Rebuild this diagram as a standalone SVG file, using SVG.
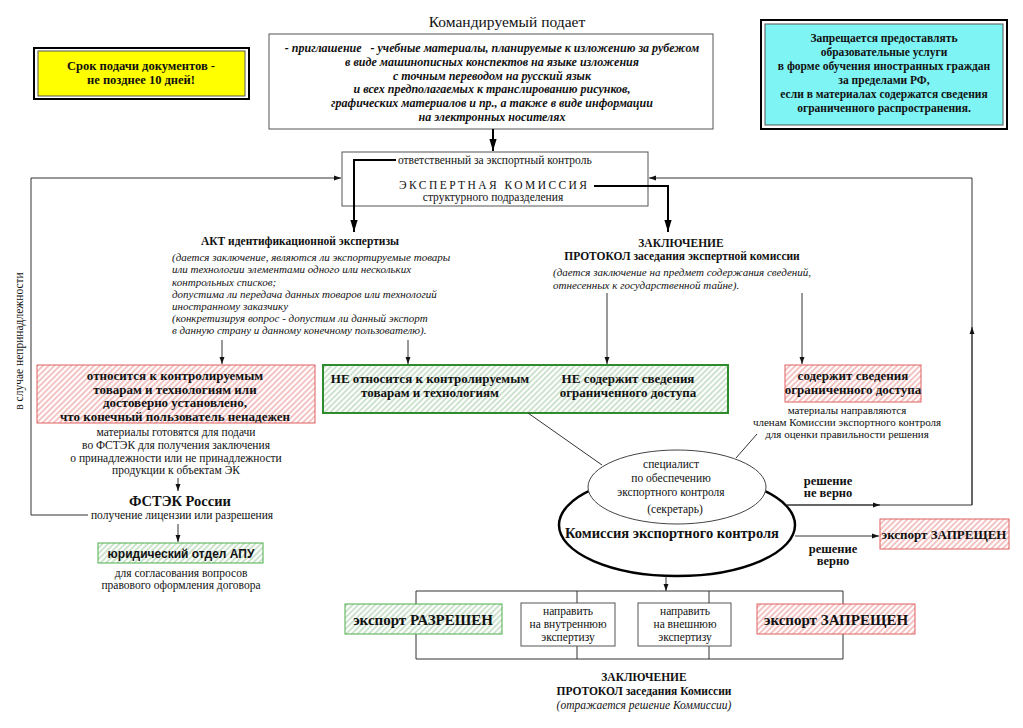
<svg xmlns="http://www.w3.org/2000/svg" width="1023" height="728" viewBox="0 0 1023 728" font-family="'Liberation Serif','DejaVu Serif',serif">
<style>
text{font-family:'Liberation Serif','DejaVu Serif',serif;fill:#111;}
.c{text-anchor:middle;}
.b{font-weight:bold;}
.i{font-style:italic;}
.s11{font-size:11.5px;}
.s12{font-size:13px;}
.it{font-size:11px;font-style:italic;}
.ln{fill:none;stroke:#333;stroke-width:1;}
.tk{fill:none;stroke:#000;stroke-width:2;}
</style>
<defs>
<pattern id="hR" width="4" height="4" patternUnits="userSpaceOnUse" patternTransform="rotate(45)"><rect width="4" height="4" fill="#fff"/><line x1="1" y1="0" x2="1" y2="4" stroke="#e98a8a" stroke-width="1"/></pattern>
<pattern id="hG" width="4" height="4" patternUnits="userSpaceOnUse" patternTransform="rotate(45)"><rect width="4" height="4" fill="#fff"/><line x1="1" y1="0" x2="1" y2="4" stroke="#9cc79c" stroke-width="1"/></pattern>
<marker id="a" viewBox="0 0 10 10" refX="10" refY="5" markerWidth="7" markerHeight="7" orient="auto" markerUnits="userSpaceOnUse"><path d="M0,1.5L10,5L0,8.5z" fill="#111"/></marker>
<marker id="A" viewBox="0 0 10 10" refX="10" refY="5" markerWidth="12" markerHeight="12" orient="auto" markerUnits="userSpaceOnUse"><path d="M0,2L10,5L0,8z" fill="#000"/></marker>
</defs>
<rect width="1023" height="728" fill="#fff"/>

<g id="deadline">
<rect x="34" y="48" width="215" height="51" fill="#fff" stroke="#000" stroke-width="2"/>
<rect x="38" y="51" width="207" height="45" fill="#ffff00" stroke="#555" stroke-width="1"/>
<text class="c b" x="141" y="70" font-size="12.5">Срок подачи документов -</text>
<text class="c b" x="141" y="84" font-size="12.5">не позднее 10 дней!</text>
</g>

<g id="prohibit">
<rect x="761" y="20" width="246" height="109" fill="#fff" stroke="#000" stroke-width="2"/>
<rect x="765" y="24" width="238" height="101" fill="#7ff4f4" stroke="#555" stroke-width="1"/>
<text class="c b s11" x="884" y="42">Запрещается предоставлять</text>
<text class="c b s11" x="884" y="56">образовательные услуги</text>
<text class="c b s11" x="884" y="70">в форме обучения иностранных граждан</text>
<text class="c b s11" x="884" y="84">за пределами РФ,</text>
<text class="c b s11" x="884" y="98">если в материалах содержатся сведения</text>
<text class="c b s11" x="884" y="112">ограниченного распространения.</text>
</g>

<g id="applicant">
<text class="c" x="507" y="27" font-size="15.5">Командируемый подает</text>
<rect x="269" y="34" width="444" height="95" fill="#fff" stroke="#555" stroke-width="1"/>
<text class="c b i" x="492" y="52" font-size="12" xml:space="preserve">- приглашение   - учебные материалы, планируемые к изложению за рубежом</text>
<text class="c b i" x="492" y="66" font-size="12">в виде машинописных конспектов на языке изложения</text>
<text class="c b i" x="492" y="80" font-size="12">с точным переводом на русский язык</text>
<text class="c b i" x="492" y="93" font-size="12">и всех предполагаемых к транслированию рисунков,</text>
<text class="c b i" x="492" y="107" font-size="12">графических материалов и пр., а также в виде информации</text>
<text class="c b i" x="492" y="121" font-size="12">на электронных носителях</text>
</g>

<g id="expert-commission">
<rect x="342" y="152" width="306" height="54" fill="#fff" stroke="#555" stroke-width="1"/>
<text x="398" y="164" font-size="11.5">ответственный за экспортный контроль</text>
<text class="c" x="493" y="189" font-size="11.5" textLength="188" lengthAdjust="spacing">ЭКСПЕРТНАЯ КОМИССИЯ</text>
<text class="c" x="493" y="201" font-size="11.5">структурного подразделения</text>
</g>

<g id="act">
<text class="c b s11" x="300" y="245">АКТ идентификационной экспертизы</text>
<text class="it" x="172" y="261">(дается заключение, являются ли экспортируемые товары</text>
<text class="it" x="172" y="273">или технологии элементами одного или нескольких</text>
<text class="it" x="172" y="286">контрольных списков;</text>
<text class="it" x="172" y="298">допустима ли передача данных товаров или технологий</text>
<text class="it" x="172" y="310">иностранному заказчику</text>
<text class="it" x="172" y="322">(конкретизируя вопрос - допустим ли данный экспорт</text>
<text class="it" x="172" y="334">в данную страну и данному конечному пользователю).</text>
</g>

<g id="conclusion">
<text class="c b s11" x="681" y="247">ЗАКЛЮЧЕНИЕ</text>
<text class="c b s11" x="682" y="260">ПРОТОКОЛ заседания экспертной комиссии</text>
<text class="it" x="553" y="276">(дается заключение на предмет содержания сведений,</text>
<text class="it" x="553" y="289">отнесенных к государственной тайне).</text>
</g>

<g id="controlled">
<rect x="37" y="365" width="278" height="58" fill="url(#hR)" stroke="#e06060" stroke-width="1"/>
<text class="c b s12" x="175" y="380">относится к контролируемым</text>
<text class="c b s12" x="175" y="394">товарам и технологиям или</text>
<text class="c b s12" x="175" y="407">достоверно установлено,</text>
<text class="c b s12" x="175" y="421">что конечный пользователь ненадежен</text>
<text class="c s11" x="176" y="436">материалы готовятся для подачи</text>
<text class="c s11" x="176" y="449">во ФСТЭК для получения заключения</text>
<text class="c s11" x="176" y="462">о принадлежности или не принадлежности</text>
<text class="c s11" x="176" y="474">продукции к объектам ЭК</text>
</g>

<g id="not-controlled">
<rect x="323" y="365" width="405" height="48" fill="url(#hG)" stroke="#2e8b2e" stroke-width="2"/>
<text class="c b s12" x="430" y="383">НЕ относится к контролируемым</text>
<text class="c b s12" x="430" y="397">товарам и технологиям</text>
<text class="c b s12" x="628" y="383">НЕ содержит сведения</text>
<text class="c b s12" x="628" y="397">ограниченного доступа</text>
</g>

<g id="restricted">
<rect x="785" y="365" width="136" height="37" fill="url(#hR)" stroke="#e06060" stroke-width="1"/>
<text class="c b s12" x="853" y="380">содержит сведения</text>
<text class="c b s12" x="853" y="394">ограниченного доступа</text>
<text class="c" x="847" y="414" font-size="11">материалы направляются</text>
<text class="c" x="847" y="426" font-size="11">членам Комиссии экспортного контроля</text>
<text class="c" x="847" y="438" font-size="11">для оценки правильности решения</text>
</g>

<g id="fstek">
<text class="c b" x="180" y="506" font-size="14.5">ФСТЭК России</text>
<text class="c s11" x="182" y="519">получение лицензии или разрешения</text>
</g>

<g id="legal">
<rect x="98" y="543" width="165" height="20" fill="url(#hG)" stroke="#4caf4c" stroke-width="1"/>
<text class="c b" x="181" y="558" font-size="12" style="font-family:'Liberation Sans',Arial,sans-serif">юридический отдел АПУ</text>
<text class="c s11" x="181" y="577">для согласования вопросов</text>
<text class="c s11" x="181" y="589">правового оформления договора</text>
</g>

<g id="export-commission">
<ellipse cx="677" cy="525" rx="118" ry="51" fill="#fff" stroke="#000" stroke-width="2.5"/>
<ellipse cx="677" cy="487" rx="89" ry="37" fill="#fff" stroke="#444" stroke-width="1"/>
<text class="c s11" x="671" y="468">специалист</text>
<text class="c s11" x="671" y="482">по обеспечению</text>
<text class="c s11" x="671" y="496">экспортного контроля</text>
<text class="c s11" x="675" y="513">(секретарь)</text>
<text class="c b" x="672" y="538" font-size="14.5">Комиссия экспортного контроля</text>
</g>

<g id="decision-labels">
<text class="c b" x="828" y="485" font-size="12.5">решение</text>
<text class="c b" x="828" y="497" font-size="12.5">не верно</text>
<text class="c b" x="833" y="553" font-size="12.5">решение</text>
<text class="c b" x="833" y="565" font-size="12.5">верно</text>
</g>

<g id="export-forbidden-right">
<rect x="880" y="519" width="129" height="30" fill="url(#hR)" stroke="#e06060" stroke-width="1"/>
<text class="c b s12" x="944" y="539">экспорт ЗАПРЕЩЕН</text>
</g>

<g id="connectors">
<path class="tk" d="M493,129V151" marker-end="url(#A)"/>
<path class="tk" d="M396,160H354V232" marker-end="url(#A)"/>
<path class="tk" d="M594,186H668V232" marker-end="url(#A)"/>
<path class="ln" d="M88,515H31V178H341" marker-end="url(#a)"/>
<path class="ln" d="M972,178H649" marker-end="url(#a)"/>
<path class="ln" d="M972,505V178"/>
<path class="ln" d="M972,505V327" marker-end="url(#a)"/>
<path class="ln" d="M787,505H972"/>
<path class="ln" d="M787,505H880" marker-end="url(#a)"/>
<path class="ln" d="M795,536H879" marker-end="url(#a)"/>
<path class="ln" d="M222,340V364" marker-end="url(#a)"/>
<path class="ln" d="M408,340V364" marker-end="url(#a)"/>
<path class="ln" d="M607,293V364" marker-end="url(#a)"/>
<path class="ln" d="M802,293V364" marker-end="url(#a)"/>
<path class="ln" d="M178,478V491" marker-end="url(#a)"/>
<path class="ln" d="M178,524V542" marker-end="url(#a)"/>
<path class="ln" d="M528,413L602,465"/>
<path class="ln" d="M757,434L736,458"/>
<path class="ln" d="M666,576V591" marker-end="url(#a)"/>
<path class="ln" d="M416,591H843V659H416z M577,591V659 M709,591V659" stroke="#555"/>
</g>

<text class="c s11" transform="translate(23,341) rotate(-90)">в случае непринадлежности</text>

<g id="export-allowed">
<rect x="345" y="604" width="157" height="30" fill="url(#hG)" stroke="#4caf4c" stroke-width="1"/>
<text class="c b" x="423" y="625" font-size="15">экспорт РАЗРЕШЕН</text>
</g>
<g id="internal-review">
<rect x="521" y="603" width="94" height="43" fill="#fff" stroke="#555" stroke-width="1"/>
<text class="c s11" x="568" y="615">направить</text>
<text class="c s11" x="568" y="628">на внутреннюю</text>
<text class="c s11" x="568" y="641">экспертизу</text>
</g>
<g id="external-review">
<rect x="638" y="603" width="93" height="43" fill="#fff" stroke="#555" stroke-width="1"/>
<text class="c s11" x="685" y="615">направить</text>
<text class="c s11" x="685" y="628">на внешнюю</text>
<text class="c s11" x="685" y="641">экспертизу</text>
</g>
<g id="export-forbidden">
<rect x="757" y="604" width="158" height="30" fill="url(#hR)" stroke="#e06060" stroke-width="1"/>
<text class="c b" x="836" y="625" font-size="15">экспорт ЗАПРЕЩЕН</text>
</g>
<g id="final">
<text class="c b s11" x="644" y="681">ЗАКЛЮЧЕНИЕ</text>
<text class="c b s11" x="644" y="695">ПРОТОКОЛ заседания Комиссии</text>
<text class="c i s11" x="644" y="709">(отражается решение Коммиссии)</text>
</g>
</svg>
